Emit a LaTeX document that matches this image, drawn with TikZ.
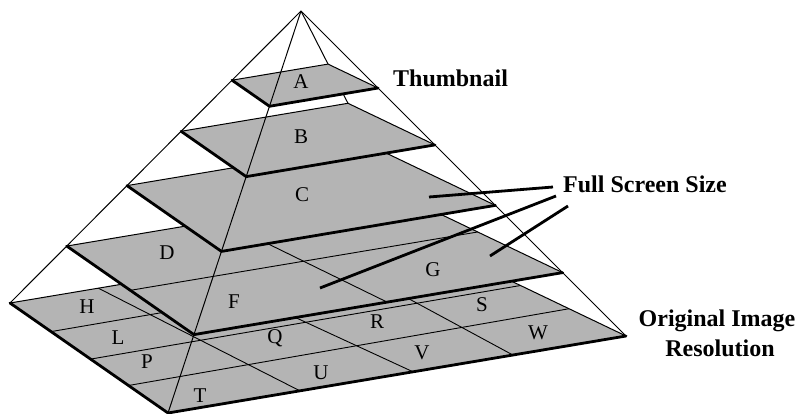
\documentclass[tikz,border=0pt]{standalone}
\usepackage{fontspec}
\setmainfont{Liberation Serif}
\usetikzlibrary{calc}
\definecolor{layergray}{RGB}{180,180,180}
\begin{document}
\begin{tikzpicture}[x=1pt,y=-1pt,
  layerfill/.style={fill=layergray,draw=none},
  thinedge/.style={draw=black,line width=1pt},
  boldedge/.style={draw=black,line width=2.8pt,line cap=round,line join=round},
  gridline/.style={draw=black,line width=0.9pt},
  leader/.style={draw=black,line width=2.8pt},
  cell/.style={font=\fontsize{21}{21}\selectfont,inner sep=0pt},
  caption/.style={font=\fontsize{24}{24}\selectfont\bfseries,inner sep=0pt},
]
\useasboundingbox (0,0) rectangle (800,414);

% pyramid apex and base corners
\coordinate (apex) at (301,11);
\coordinate (Lb) at (10,303);
\coordinate (Fb) at (168,413);
\coordinate (Rb) at (626,336);
\coordinate (Kb) at (415,235);

% layer corners
\foreach \n/\t in {D/0.805, C/0.598, B/0.412, A/0.237}{
  \coordinate (\n L) at ($(apex)!\t!(Lb)$);
  \coordinate (\n F) at ($(apex)!\t!(Fb)$);
  \coordinate (\n R) at ($(apex)!\t!(Rb)$);
  \coordinate (\n K) at ($(apex)!\t!(Kb)$);
}

% back edge (hidden behind the layers)
\draw[thinedge] (apex) -- (Kb);

% ---- base layer (4x4) ----
\fill[layerfill] (Lb) -- (Fb) -- (Rb) -- (Kb) -- cycle;
\foreach \f/\g in {0.26/0.25, 0.51/0.5, 0.75/0.73}{
  \draw[gridline] ($(Lb)!\f!(Fb)$) -- ($(Kb)!\g!(Rb)$);
}
\foreach \h/\k in {0.218/0.288, 0.46/0.535, 0.766/0.753}{
  \draw[gridline] ($(Lb)!\h!(Kb)$) -- ($(Fb)!\k!(Rb)$);
}
\draw[thinedge] (Lb) -- (Kb) -- (Rb);
\draw[boldedge] (Lb) -- (Fb) -- (Rb);

% ---- layer D (2x2) ----
\fill[layerfill] (DL) -- (DF) -- (DR) -- (DK) -- cycle;
\draw[gridline] ($(DL)!0.5!(DF)$) -- ($(DK)!0.5!(DR)$);
\draw[gridline] ($(DL)!0.47!(DK)$) -- ($(DF)!0.524!(DR)$);
\draw[thinedge] (DL) -- (DK) -- (DR);
\draw[boldedge] (DL) -- (DF) -- (DR);

% ---- layers C, B, A ----
\foreach \n in {C,B,A}{
  \fill[layerfill] (\n L) -- (\n F) -- (\n R) -- (\n K) -- cycle;
  \draw[thinedge] (\n L) -- (\n K) -- (\n R);
  \draw[boldedge] (\n L) -- (\n F) -- (\n R);
}

% visible pyramid edges
\draw[thinedge] (apex) -- (Lb);
\draw[thinedge] (apex) -- (Rb);
\draw[thinedge] (apex) -- (Fb);

% tile letters
\node[cell] (tA) at (301,82) {A};
\node[cell] (tB) at (301,137) {B};
\node[cell] (tC) at (302,195) {C};
\node[cell] (tD) at (167,253) {D};
\node[cell] (tF) at (234,302) {F};
\node[cell] (tG) at (433,270) {G};
\node[cell] (tH) at (87,307) {H};
\node[cell] (tL) at (118,338) {L};
\node[cell] (tP) at (147,362) {P};
\node[cell] (tT) at (200,396) {T};
\node[cell] (tQ) at (275,338) {Q};
\node[cell] (tU) at (321,373) {U};
\node[cell] (tR) at (377,322) {R};
\node[cell] (tV) at (422,353) {V};
\node[cell] (tS) at (482,305) {S};
\node[cell] (tW) at (538,333) {W};

% captions
\node[caption,anchor=base west] (thumb) at (393,87) {Thumbnail};
\node[caption,anchor=base west] (fss) at (563,193) {Full Screen Size};
\node[caption,anchor=base] (orig) at (717,326) {Original Image};
\node[caption,anchor=base] (res) at (720,356) {Resolution};

% leaders
\coordinate (s1) at (553,187);
\coordinate (s2) at (556,196);
\coordinate (s3) at (568,206);
\coordinate (e1) at (429,197);
\coordinate (e2) at (320,288);
\coordinate (e3) at (490,256);
\draw[leader] (s1) -- (e1);
\draw[leader] (s2) -- (e2);
\draw[leader] (s3) -- (e3);
\end{tikzpicture}
\end{document}
